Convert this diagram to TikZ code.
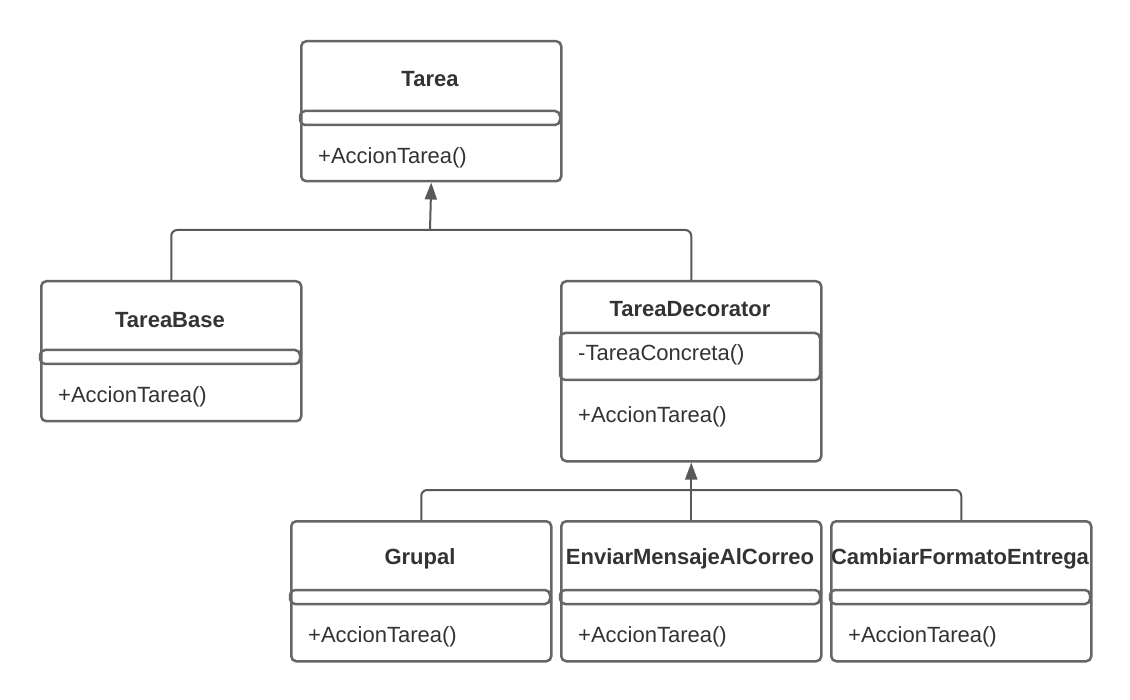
\documentclass[tikz,border=0pt]{standalone}
\usepackage{fontspec}
\setmainfont{Liberation Sans}
\usetikzlibrary{arrows.meta}
\definecolor{boxline}{HTML}{666666}
\definecolor{connline}{HTML}{595959}
\definecolor{txt}{HTML}{333333}
\tikzset{
  classbox/.style={draw=boxline, line width=2.5pt, rounded corners=5pt, minimum width=260pt, anchor=north west, inner sep=0pt, fill=white},
  comp/.style={draw=boxline, line width=2.5pt, rounded corners=5pt},
  title/.style={font=\fontsize{22}{26}\selectfont\bfseries, text=txt, anchor=center, inner sep=0pt},
  member/.style={font=\fontsize{22}{26}\selectfont, text=txt, anchor=west, inner sep=0pt},
  conn/.style={draw=connline, line width=2pt, rounded corners=6pt},
  inherit/.style={draw=connline, line width=2pt, -{Triangle[length=17pt,width=12pt]}},
}
\begin{document}
\begin{tikzpicture}[x=1pt,y=-1pt]
\useasboundingbox[fill=white] (0,0) rectangle (1130,700);
% Tarea
\node[classbox, minimum height=140pt] (tarea) at (300,40) {};
\draw[comp] (300,111) rectangle (560,125);
\node[title] (tareaT) at (430,79) {Tarea};
\node[member] (tareaM) at (318,158) {+AccionTarea()};
% TareaBase
\node[classbox, minimum height=140pt] (tbase) at (40,280) {};
\draw[comp] (40,350) rectangle (300,364);
\node[title] (tbaseT) at (170,320) {TareaBase};
\node[member] (tbaseM) at (58,397) {+AccionTarea()};
% TareaDecorator
\node[classbox, minimum height=180pt] (tdec) at (560,280) {};
\draw[comp] (560,333) rectangle (820,380);
\node[title] (tdecT) at (690,309) {TareaDecorator};
\node[member] (tdecA) at (578,355) {-TareaConcreta()};
\node[member] (tdecM) at (578,417) {+AccionTarea()};
% Grupal
\node[classbox, minimum height=140pt] (grupal) at (290,520) {};
\draw[comp] (290,590) rectangle (550,604);
\node[title] (grupalT) at (420,559) {Grupal};
\node[member] (grupalM) at (308,637) {+AccionTarea()};
% EnviarMensajeAlCorreo
\node[classbox, minimum height=140pt] (enviar) at (560,520) {};
\draw[comp] (560,590) rectangle (820,604);
\node[title] (enviarT) at (690,559) {EnviarMensajeAlCorreo};
\node[member] (enviarM) at (578,637) {+AccionTarea()};
% CambiarFormatoEntrega
\node[classbox, minimum height=140pt] (cambiar) at (830,520) {};
\draw[comp] (830,590) rectangle (1090,604);
\node[title] (cambiarT) at (960,559) {CambiarFormatoEntrega};
\node[member] (cambiarM) at (848,637) {+AccionTarea()};
% connectors
\coordinate (j1) at (430,230);
\coordinate (j2) at (690,490);
\draw[conn] (tbase.north) |- (j1);
\draw[conn] (tdec.north) |- (j1);
\draw[inherit] (j1) -- (tarea.south);
\draw[conn] (grupal.north) |- (j2);
\draw[conn] (cambiar.north) |- (j2);
\draw[inherit] (enviar.north) -- (tdec.south);
\end{tikzpicture}
\end{document}
